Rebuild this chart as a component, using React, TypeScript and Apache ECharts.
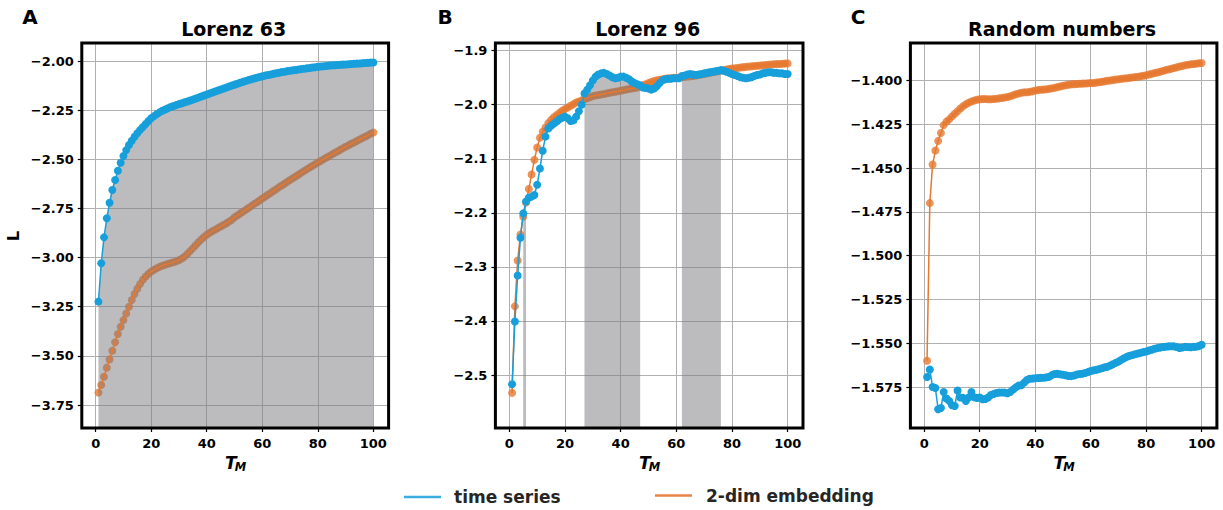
import React, { useEffect, useRef } from "react";
import * as echarts from "echarts";

// ---------- data ----------
const TM = [
  1, 2, 3, 4, 5, 6, 7, 8, 9, 10, 11, 12, 13, 14, 15, 16, 17, 18, 19, 20,
  21, 22, 23, 24, 25, 26, 27, 28, 29, 30, 31, 32, 33, 34, 35, 36, 37, 38, 39, 40,
  41, 42, 43, 44, 45, 46, 47, 48, 49, 50, 51, 52, 53, 54, 55, 56, 57, 58, 59, 60,
  61, 62, 63, 64, 65, 66, 67, 68, 69, 70, 71, 72, 73, 74, 75, 76, 77, 78, 79, 80,
  81, 82, 83, 84, 85, 86, 87, 88, 89, 90, 91, 92, 93, 94, 95, 96, 97, 98, 99, 100,
];

const A_TIME_SERIES = [
  -3.224, -3.029, -2.897, -2.8, -2.721, -2.656, -2.605, -2.558, -2.517, -2.483,
  -2.453, -2.427, -2.405, -2.385, -2.367, -2.35, -2.335, -2.32, -2.305, -2.291,
  -2.28, -2.27, -2.261, -2.253, -2.246, -2.24, -2.234, -2.229, -2.224, -2.219,
  -2.215, -2.21, -2.206, -2.201, -2.196, -2.191, -2.186, -2.18, -2.175, -2.17,
  -2.165, -2.16, -2.155, -2.15, -2.145, -2.14, -2.135, -2.13, -2.125, -2.12,
  -2.115, -2.11, -2.106, -2.101, -2.097, -2.093, -2.089, -2.085, -2.081, -2.077,
  -2.074, -2.071, -2.068, -2.065, -2.062, -2.059, -2.056, -2.054, -2.051, -2.049,
  -2.047, -2.045, -2.043, -2.041, -2.039, -2.037, -2.035, -2.033, -2.031, -2.029,
  -2.028, -2.026, -2.025, -2.023, -2.022, -2.021, -2.02, -2.019, -2.018, -2.017,
  -2.016, -2.015, -2.014, -2.013, -2.012, -2.011, -2.01, -2.009, -2.008, -2.007,
];
const A_EMBEDDING = [
  -3.687, -3.648, -3.606, -3.56, -3.518, -3.474, -3.431, -3.389, -3.352, -3.318,
  -3.284, -3.25, -3.216, -3.185, -3.158, -3.134, -3.113, -3.096, -3.082, -3.071,
  -3.062, -3.054, -3.047, -3.041, -3.036, -3.032, -3.028, -3.024, -3.019, -3.013,
  -3.005, -2.995, -2.982, -2.967, -2.952, -2.937, -2.922, -2.908, -2.895, -2.884,
  -2.874, -2.866, -2.858, -2.85, -2.842, -2.834, -2.826, -2.817, -2.808, -2.795,
  -2.786, -2.776, -2.767, -2.757, -2.748, -2.738, -2.728, -2.719, -2.709, -2.699,
  -2.69, -2.68, -2.671, -2.661, -2.652, -2.642, -2.633, -2.624, -2.614, -2.605,
  -2.596, -2.587, -2.578, -2.569, -2.56, -2.551, -2.542, -2.534, -2.525, -2.516,
  -2.508, -2.5, -2.492, -2.484, -2.476, -2.468, -2.46, -2.452, -2.444, -2.436,
  -2.429, -2.421, -2.414, -2.407, -2.399, -2.392, -2.385, -2.378, -2.37, -2.363,
];

const B_TIME_SERIES = [
  -2.517, -2.401, -2.316, -2.246, -2.201, -2.179, -2.172, -2.17, -2.167, -2.148,
  -2.118, -2.085, -2.059, -2.044, -2.039, -2.035, -2.031, -2.027, -2.024, -2.022,
  -2.025, -2.03, -2.029, -2.022, -2.012, -2.0, -1.979, -1.972, -1.964, -1.955,
  -1.948, -1.944, -1.942, -1.941, -1.943, -1.946, -1.949, -1.951, -1.95, -1.948,
  -1.948, -1.95, -1.953, -1.957, -1.96, -1.962, -1.964, -1.968, -1.969, -1.97,
  -1.972, -1.97, -1.966, -1.96, -1.955, -1.953, -1.952, -1.952, -1.951, -1.951,
  -1.951, -1.947, -1.946, -1.944, -1.943, -1.944, -1.945, -1.944, -1.943, -1.942,
  -1.941, -1.94, -1.939, -1.938, -1.937, -1.936, -1.937, -1.939, -1.941, -1.943,
  -1.945, -1.947, -1.949, -1.95, -1.951, -1.95, -1.949, -1.947, -1.945, -1.944,
  -1.942, -1.941, -1.94, -1.94, -1.941, -1.941, -1.942, -1.942, -1.943, -1.943,
];
const B_EMBEDDING = [
  -2.533, -2.373, -2.288, -2.24, -2.207, -2.181, -2.156, -2.129, -2.102, -2.079,
  -2.061, -2.05, -2.042, -2.034, -2.028, -2.023, -2.019, -2.015, -2.011, -2.008,
  -2.005, -2.002, -1.999, -1.996, -1.994, -1.992, -1.99, -1.988, -1.986, -1.984,
  -1.983, -1.982, -1.981, -1.98, -1.979, -1.978, -1.977, -1.976, -1.975, -1.974,
  -1.973, -1.972, -1.971, -1.97, -1.969, -1.968, -1.966, -1.964, -1.962, -1.96,
  -1.958, -1.956, -1.955, -1.954, -1.953, -1.952, -1.951, -1.951, -1.95, -1.95,
  -1.9495, -1.949, -1.9485, -1.948, -1.9475, -1.947, -1.946, -1.945, -1.944, -1.943,
  -1.942, -1.941, -1.94, -1.939, -1.938, -1.937, -1.936, -1.935, -1.934, -1.933,
  -1.9325, -1.932, -1.931, -1.9305, -1.93, -1.9295, -1.929, -1.9285, -1.928, -1.9275,
  -1.927, -1.9265, -1.926, -1.9255, -1.925, -1.9248, -1.9245, -1.9243, -1.924, -1.9235,
];

const C_TIME_SERIES = [
  -1.5693, -1.565, -1.575, -1.5756, -1.5877, -1.587, -1.5778, -1.5816, -1.583, -1.5854,
  -1.5858, -1.577, -1.581, -1.5812, -1.583, -1.581, -1.5778, -1.5808, -1.5813, -1.581,
  -1.582, -1.5818, -1.581, -1.5796, -1.579, -1.5784, -1.5782, -1.5781, -1.5782, -1.5786,
  -1.5778, -1.5765, -1.5752, -1.5742, -1.574, -1.5725, -1.571, -1.5703, -1.5702, -1.57,
  -1.5699, -1.5698, -1.5697, -1.5695, -1.5692, -1.5682, -1.5676, -1.5675, -1.5677, -1.568,
  -1.5683, -1.5687, -1.5688, -1.5684, -1.5679, -1.5676, -1.5674, -1.567, -1.5665, -1.5659,
  -1.5655, -1.5652, -1.5648, -1.5643, -1.5638, -1.5635, -1.5628, -1.562, -1.5612, -1.5605,
  -1.5595, -1.5586, -1.5578, -1.5572, -1.5568, -1.5563, -1.5559, -1.5555, -1.5551, -1.5547,
  -1.5542, -1.5537, -1.5532, -1.5528, -1.5525, -1.5522, -1.552, -1.5518, -1.5517, -1.5518,
  -1.5522, -1.5527, -1.5524, -1.5521, -1.5522, -1.5523, -1.5521, -1.552, -1.5516, -1.5509,
];
const C_EMBEDDING = [
  -1.56, -1.47, -1.448, -1.44, -1.4345, -1.43, -1.4255, -1.4235, -1.4222, -1.4205,
  -1.419, -1.4176, -1.416, -1.4147, -1.4136, -1.4127, -1.412, -1.4114, -1.411, -1.4107,
  -1.4106, -1.4106, -1.4107, -1.4107, -1.4106, -1.4104, -1.4102, -1.41, -1.4097, -1.4094,
  -1.409, -1.4085, -1.4079, -1.4074, -1.407, -1.4068, -1.4067, -1.4065, -1.4062, -1.4058,
  -1.4055, -1.4053, -1.4052, -1.405, -1.4048, -1.4045, -1.4042, -1.4038, -1.4034, -1.403,
  -1.4027, -1.4024, -1.4022, -1.4021, -1.402, -1.4019, -1.4018, -1.4017, -1.4016, -1.4015,
  -1.4014, -1.4012, -1.401, -1.4008, -1.4005, -1.4002, -1.4, -1.3997, -1.3995, -1.3993,
  -1.3991, -1.3989, -1.3987, -1.3985, -1.3983, -1.3981, -1.3979, -1.3976, -1.3973, -1.397,
  -1.3966, -1.3962, -1.3958, -1.3954, -1.395, -1.3946, -1.3941, -1.3937, -1.3933, -1.3929,
  -1.3925, -1.3921, -1.3917, -1.3913, -1.391, -1.3908, -1.3906, -1.3904, -1.3902, -1.39,
];

const PANEL_LETTERS = ["A", "B", "C"];
const PANEL_TITLES = ["Lorenz 63", "Lorenz 96", "Random numbers"];
const X_TICKS = [0, 20, 40, 60, 80, 100];
const A_Y_TICKS = [-3.75, -3.5, -3.25, -3.0, -2.75, -2.5, -2.25, -2.0];
const B_Y_TICKS = [-2.5, -2.4, -2.3, -2.2, -2.1, -2.0, -1.9];
const C_Y_TICKS = [-1.575, -1.55, -1.525, -1.5, -1.475, -1.45, -1.425, -1.4];
const LEGEND_NAMES = ["time series", "2-dim embedding"];
const Y_LABEL = "L";

// ---------- styles / layout ----------
const BLUE = "#169fdb";
const ORANGE = "#e6782f";
const FILL = "#797a7f";
const FONT = "DejaVu Sans";
const TOP = 43;
const HEIGHT = 385;
const MARKER = 8;

const PANELS = [
  { ts: A_TIME_SERIES, emb: A_EMBEDDING, yTicks: A_Y_TICKS, dec: 2, yMin: -3.867, yMax: -1.908, left: 81.8, width: 306.8 },
  { ts: B_TIME_SERIES, emb: B_EMBEDDING, yTicks: B_Y_TICKS, dec: 1, yMin: -2.598, yMax: -1.8858, left: 495.4, width: 307.6 },
  { ts: C_TIME_SERIES, emb: C_EMBEDDING, yTicks: C_Y_TICKS, dec: 3, yMin: -1.5984, yMax: -1.3786, left: 910.4, width: 306.5 },
];

const fmtMinus = (s: string) => s.replace("-", "\u2212");

function buildOption() {
  const grid: any[] = [];
  const xAxis: any[] = [];
  const yAxis: any[] = [];
  const series: any[] = [];
  const graphic: any[] = [];

  PANELS.forEach((p, i) => {
    grid.push({ left: p.left, top: TOP, width: p.width, height: HEIGHT, show: false });
    const tickLabel = {
      color: "#000",
      fontFamily: FONT,
      fontWeight: "bold",
      fontSize: 13,
    };
    xAxis.push({
      gridIndex: i,
      type: "value",
      min: -5,
      max: 105.5,
      axisLine: { show: false, onZero: false },
      axisTick: { show: true, customValues: X_TICKS, length: 4, lineStyle: { color: "#000", width: 1.2 } },
      axisLabel: { ...tickLabel, customValues: X_TICKS, margin: 9, formatter: (v: number) => fmtMinus(String(v)) },
      splitLine: { show: true, lineStyle: { color: "#b0b0b0", width: 1 } },
    });
    yAxis.push({
      gridIndex: i,
      type: "value",
      min: p.yMin,
      max: p.yMax,
      axisLine: { show: false, onZero: false },
      axisTick: { show: true, customValues: p.yTicks, length: 4, lineStyle: { color: "#000", width: 1.2 } },
      axisLabel: { ...tickLabel, customValues: p.yTicks, margin: 8, formatter: (v: number) => fmtMinus(v.toFixed(p.dec)) },
      splitLine: { show: true, lineStyle: { color: "#b0b0b0", width: 1 } },
    });

    const embData = TM.map((x, j) => [x, p.emb[j]]);
    const tsData = TM.map((x, j) => [x, p.ts[j]]);
    const fillData = TM.map((x, j) => [x, p.ts[j] > p.emb[j] ? p.ts[j] : "-"]);

    series.push({
      name: LEGEND_NAMES[1],
      type: "scatter",
      xAxisIndex: i,
      yAxisIndex: i,
      data: embData,
      symbol: "circle",
      symbolSize: MARKER,
      itemStyle: { color: ORANGE },
      z: 1,
      silent: true,
      emphasis: { disabled: true },
    });
    series.push({
      name: "fill",
      type: "line",
      xAxisIndex: i,
      yAxisIndex: i,
      data: fillData,
      symbol: "none",
      showSymbol: false,
      connectNulls: false,
      lineStyle: { width: 0 },
      areaStyle: { color: FILL, opacity: 0.5, origin: "start" },
      z: 2,
      silent: true,
      emphasis: { disabled: true },
    });
    series.push({
      name: LEGEND_NAMES[1],
      type: "line",
      xAxisIndex: i,
      yAxisIndex: i,
      data: embData,
      symbol: "none",
      showSymbol: false,
      lineStyle: { color: ORANGE, width: 1.5 },
      itemStyle: { color: ORANGE },
      z: 3,
      silent: true,
      emphasis: { disabled: true },
    });
    series.push({
      name: LEGEND_NAMES[0],
      type: "line",
      xAxisIndex: i,
      yAxisIndex: i,
      data: tsData,
      symbol: "circle",
      symbolSize: MARKER,
      showSymbol: true,
      showAllSymbol: true,
      lineStyle: { color: BLUE, width: 1.5 },
      itemStyle: { color: BLUE },
      z: 4,
      silent: true,
      emphasis: { disabled: true },
    });

    const cx = p.left + p.width / 2 - 1.5;
    // frame
    graphic.push({
      type: "rect",
      shape: { x: p.left, y: TOP, width: p.width, height: HEIGHT },
      style: { fill: "none", stroke: "#000", lineWidth: 3 },
      z: 100,
      silent: true,
    });
    // title
    graphic.push({
      type: "text",
      x: cx,
      y: 29,
      style: {
        text: PANEL_TITLES[i],
        fontFamily: FONT,
        fontWeight: "bold",
        fontSize: 19,
        fill: "#000",
        align: "center",
        verticalAlign: "middle",
        textAlign: "center",
        textVerticalAlign: "middle",
      },
      z: 100,
    });
    // panel letter
    graphic.push({
      type: "text",
      x: [30, 445, 858][i],
      y: 16.5,
      style: {
        text: PANEL_LETTERS[i],
        fontFamily: FONT,
        fontWeight: "bold",
        fontSize: 20,
        fill: "#000",
        align: "center",
        verticalAlign: "middle",
        textAlign: "center",
        textVerticalAlign: "middle",
      },
      z: 100,
    });
    // x axis label T_M
    graphic.push({
      type: "text",
      x: cx + 3,
      y: 462.5,
      style: {
        text: "T",
        fontFamily: FONT,
        fontWeight: "bold",
        fontStyle: "italic",
        fontSize: 17,
        fill: "#000",
        align: "right",
        verticalAlign: "middle",
        textAlign: "right",
        textVerticalAlign: "middle",
      },
      z: 100,
    });
    graphic.push({
      type: "text",
      x: cx + 1,
      y: 467,
      style: {
        text: "M",
        fontFamily: FONT,
        fontWeight: "bold",
        fontStyle: "italic",
        fontSize: 11.5,
        fill: "#000",
        align: "left",
        verticalAlign: "middle",
        textAlign: "left",
        textVerticalAlign: "middle",
      },
      z: 100,
    });
  });

  // y label
  graphic.push({
    type: "text",
    x: 13,
    y: 236,
    rotation: Math.PI / 2,
    style: {
      text: Y_LABEL,
      fontFamily: FONT,
      fontWeight: "bold",
      fontSize: 16.5,
      fill: "#000",
      align: "center",
      verticalAlign: "middle",
      textAlign: "center",
      textVerticalAlign: "middle",
    },
    z: 100,
  });

  // legend
  const legendItems = [
    { lx: 404, y: 497, color: "#3aaee0", tx: 454 },
    { lx: 655, y: 495.5, color: "#e8844a", tx: 706 },
  ];
  legendItems.forEach((it, k) => {
    graphic.push({
      type: "line",
      shape: { x1: it.lx, y1: it.y, x2: it.lx + 37, y2: it.y },
      style: { stroke: it.color, lineWidth: 2.5 },
      z: 100,
    });
    graphic.push({
      type: "text",
      x: it.tx,
      y: it.y,
      style: {
        text: LEGEND_NAMES[k],
        fontFamily: FONT,
        fontWeight: "bold",
        fontSize: 17,
        fill: "#262626",
        align: "left",
        verticalAlign: "middle",
        textAlign: "left",
        textVerticalAlign: "middle",
      },
      z: 100,
    });
  });

  return {
    animation: false,
    backgroundColor: "#ffffff",
    textStyle: { fontFamily: FONT },
    grid,
    xAxis,
    yAxis,
    series,
    graphic,
  };
}

export default function App() {
  const ref = useRef<HTMLDivElement>(null);
  useEffect(() => {
    if (!ref.current) return;
    const chart = echarts.init(ref.current, undefined, { renderer: "svg" });
    chart.setOption(buildOption() as any);
    return () => chart.dispose();
  }, []);
  return (
    <div
      ref={ref}
      style={{ position: "absolute", left: 0, top: 0, width: 1223, height: 510, background: "#fff" }}
    />
  );
}
